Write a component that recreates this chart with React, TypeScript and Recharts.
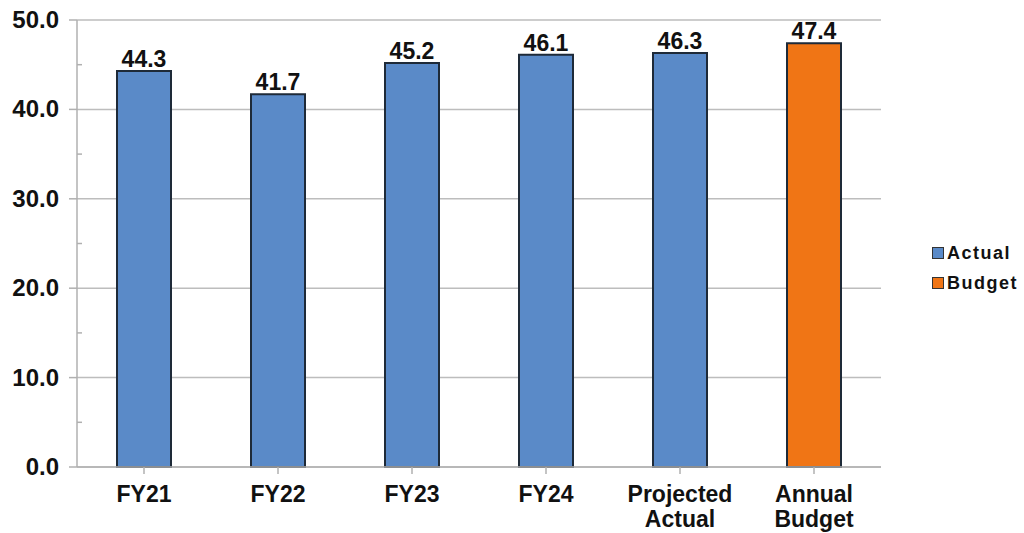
import { BarChart, Bar, XAxis, YAxis, CartesianGrid, LabelList } from 'recharts'

const categories = ['FY21', 'FY22', 'FY23', 'FY24', 'Projected Actual', 'Annual Budget']
const actualValues = [44.3, 41.7, 45.2, 46.1, 46.3, null]
const budgetValues = [null, null, null, null, null, 47.4]
const yTicks = [0, 5, 10, 15, 20, 25, 30, 35, 40, 45, 50]
const gridValues = [0, 10, 20, 30, 40, 50]

const FONT = '"Liberation Sans", Arial, sans-serif'
const BLUE = '#5a8ac8'
const ORANGE = '#f07515'
const EDGE = '#1e2a38'

const data = categories.map((name, i) => ({
  name,
  actual: actualValues[i],
  budget: budgetValues[i],
}))

function YTick(props: any) {
  const { x, y, payload } = props
  const major = payload.value % 10 === 0
  // x sits a few px left of the axis line
  return (
    <g>
      {major
        ? <line x1={x} x2={x + 8} y1={y} y2={y} stroke="#b0b0b0" strokeWidth={1.5} />
        : <line x1={x + 8} x2={x + 13} y1={y} y2={y} stroke="#b0b0b0" strokeWidth={1.5} />}
      {major && (
        <text x={x - 10} y={y} dy={8} textAnchor="end" fontFamily={FONT} fontWeight={700}
          fontSize={24} fill="#111">
          {payload.value.toFixed(1)}
        </text>
      )}
    </g>
  )
}

function XTick(props: any) {
  const { x, y, payload } = props
  const words = String(payload.value).split(' ')
  return (
    <text x={x} y={y} textAnchor="middle" fontFamily={FONT} fontWeight={700} fontSize={23} fill="#111">
      {words.map((w, i) => (
        <tspan key={i} x={x} dy={i === 0 ? 26 : 25}>{w}</tspan>
      ))}
    </text>
  )
}

const labelStyle = { fontFamily: FONT, fontWeight: 700, fontSize: 23, fill: '#111' }

export default function App() {
  return (
    <div style={{ position: 'relative', width: 1024, height: 533, background: '#fff' }}>
      <style>{'body { margin: 0; }'}</style>
      <BarChart width={1024} height={533} data={data}
        margin={{ top: 20, right: 143, bottom: 0, left: 0 }}>
        <CartesianGrid vertical={false} stroke="#bdbdbd" strokeWidth={1.5}
          horizontalValues={gridValues} />
        <XAxis dataKey="name" height={66} tick={<XTick />} tickLine={{ stroke: '#b0b0b0', strokeWidth: 1.5 }}
          axisLine={{ stroke: '#b0b0b0', strokeWidth: 1.5 }} tickSize={7} interval={0} />
        <YAxis width={77} domain={[0, 50]} ticks={yTicks} interval={0} tick={<YTick />}
          tickLine={false} axisLine={{ stroke: '#b0b0b0', strokeWidth: 1.5 }} />
        <Bar dataKey="actual" stackId="a" fill={BLUE} stroke={EDGE} strokeWidth={2}
          barSize={54} isAnimationActive={false}>
          <LabelList dataKey="actual" position="top" offset={4} style={labelStyle}
            formatter={(v: any) => (v == null ? '' : Number(v).toFixed(1))} />
        </Bar>
        <Bar dataKey="budget" stackId="a" fill={ORANGE} stroke={EDGE} strokeWidth={2}
          barSize={54} isAnimationActive={false}>
          <LabelList dataKey="budget" position="top" offset={4} style={labelStyle}
            formatter={(v: any) => (v == null ? '' : Number(v).toFixed(1))} />
        </Bar>
      </BarChart>
      <div style={{ position: 'absolute', left: 932, top: 238, fontFamily: FONT, fontWeight: 700,
        fontSize: 18, letterSpacing: 1.5, color: '#111', lineHeight: '30px' }}>
        {[{ label: 'Actual', color: BLUE }, { label: 'Budget', color: ORANGE }].map((item) => (
          <div key={item.label} style={{ display: 'flex', alignItems: 'center' }}>
            <span style={{ display: 'inline-block', width: 10, height: 10, background: item.color,
              border: '1px solid #333', marginRight: 3 }} />
            {item.label}
          </div>
        ))}
      </div>
    </div>
  )
}
